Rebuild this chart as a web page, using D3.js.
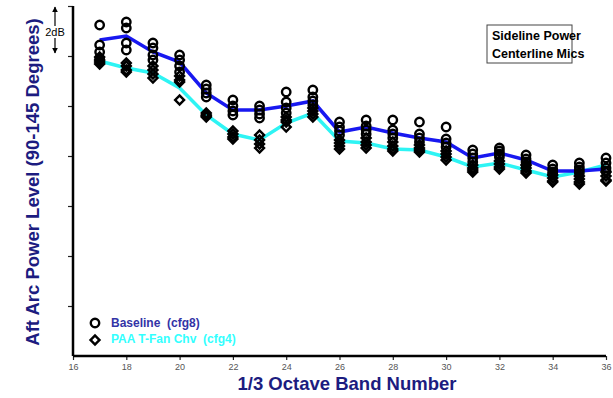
<!DOCTYPE html>
<html>
<head>
<meta charset="utf-8">
<script src="https://cdn.jsdelivr.net/npm/d3@7"></script>
<style>
  body { margin: 0; background: #fff; }
  svg { display: block; font-family: Arial, "Liberation Sans", sans-serif; }
</style>
</head>
<body>
<div id="chart"></div>
<script>
// 1/3 octave bands
const bands = [17, 18, 19, 20, 21, 22, 23, 24, 25, 26, 27, 28, 29, 30, 31, 32, 33, 34, 35, 36];

// averaged levels, dB (relative)
const baselineAvg = [12.64, 12.8, 12.16, 11.76, 10.52, 9.84, 9.84, 10.0, 10.2, 8.96, 9.16, 8.92, 8.72, 8.56, 7.92, 8.12, 7.84, 7.4, 7.4, 7.48];
const paaAvg = [11.8, 11.52, 11.32, 10.72, 9.64, 8.88, 8.64, 9.32, 9.72, 8.6, 8.52, 8.28, 8.24, 7.96, 7.56, 7.72, 7.44, 7.16, 7.36, 7.64];

// individual mic levels per band
const baselineMics = [
  [13.24, 12.44, 12.16, 11.88],
  [13.36, 13.12, 12.52, 12.24],
  [12.52, 12.32, 12.04, 11.84],
  [12.04, 11.84, 11.6, 11.36],
  [10.84, 10.68, 10.52, 10.36],
  [10.24, 10.0, 9.8, 9.64],
  [10.0, 9.84, 9.68, 9.52],
  [10.56, 10.16, 9.92, 9.72],
  [10.64, 10.36, 10.2, 10.04],
  [9.36, 9.16, 9.0, 8.84],
  [9.44, 9.2, 9.04, 8.88],
  [9.44, 9.04, 8.88, 8.72],
  [9.36, 8.88, 8.72, 8.56],
  [9.16, 8.68, 8.52, 8.36],
  [8.24, 8.08, 7.92, 7.76],
  [8.32, 8.2, 8.08, 7.96],
  [8.04, 7.88, 7.76, 7.64],
  [7.64, 7.48, 7.36, 7.28],
  [7.72, 7.56, 7.44, 7.32],
  [7.92, 7.72, 7.52, 7.4]
];
const paaMics = [
  [11.96, 11.84, 11.76, 11.68],
  [11.72, 11.6, 11.44, 11.36],
  [11.6, 11.44, 11.28, 11.12],
  [11.2, 11.04, 10.96, 10.24],
  [9.72, 9.64, 9.6, 9.56],
  [9.0, 8.88, 8.76, 8.68],
  [8.84, 8.64, 8.48, 8.32],
  [9.56, 9.44, 9.36, 9.16],
  [9.92, 9.8, 9.68, 9.56],
  [8.64, 8.52, 8.4, 8.28],
  [8.72, 8.56, 8.44, 8.32],
  [8.56, 8.4, 8.28, 8.2],
  [8.44, 8.32, 8.24, 8.16],
  [8.2, 8.08, 7.96, 7.84],
  [7.64, 7.52, 7.44, 7.36],
  [7.8, 7.68, 7.56, 7.48],
  [7.64, 7.52, 7.4, 7.32],
  [7.24, 7.12, 7.0, 6.96],
  [7.2, 7.08, 6.96, 6.88],
  [7.36, 7.2, 7.04, 7.0]
];

const xTicks = [16, 18, 20, 22, 24, 26, 28, 30, 32, 34, 36];
const yTicks = [2, 4, 6, 8, 10, 12, 14];

const W = 613, H = 398;
const svg = d3.select("#chart").append("svg")
  .attr("width", W)
  .attr("height", H);

const x = d3.scaleLinear().domain([16, 36]).range([73, 606]);
const y = d3.scaleLinear().domain([0, 14]).range([356, 6]);

// x axis
const xAxis = svg.append("g")
  .attr("transform", "translate(0," + y(0) + ")")
  .call(d3.axisBottom(x).tickValues(xTicks).tickSize(4).tickPadding(4));
xAxis.select(".domain").remove();
xAxis.selectAll("line").attr("stroke", "#222").attr("stroke-width", 1.2);
xAxis.selectAll("text").attr("font-size", 9).attr("fill", "#555");

// y axis (no labels)
const yAxis = svg.append("g")
  .attr("transform", "translate(" + x(16) + ",0)")
  .call(d3.axisLeft(y).tickValues(yTicks).tickSize(5).tickFormat(""));
yAxis.select(".domain").remove();
yAxis.selectAll("line").attr("stroke", "#222").attr("stroke-width", 1.2);

// axis lines
svg.append("line")
  .attr("x1", x(16)).attr("x2", x(16))
  .attr("y1", y(14)).attr("y2", y(0))
  .attr("stroke", "#000").attr("stroke-width", 2.5);
svg.append("line")
  .attr("x1", x(16)).attr("x2", x(36))
  .attr("y1", y(0)).attr("y2", y(0))
  .attr("stroke", "#000").attr("stroke-width", 2.5);

// lines
const line = d3.line()
  .x((d, i) => x(bands[i]))
  .y(d => y(d));

svg.append("path")
  .datum(paaAvg)
  .attr("d", line)
  .attr("fill", "none")
  .attr("stroke", "#2ef4f4")
  .attr("stroke-width", 3.5);

svg.append("path")
  .datum(baselineAvg)
  .attr("d", line)
  .attr("fill", "none")
  .attr("stroke", "#1818f0")
  .attr("stroke-width", 3.5);

// markers
const circleSym = d3.symbol().type(d3.symbolCircle).size(56);
const diamondSym = d3.symbol().type(d3.symbolSquare).size(40);

function flatten(mics) {
  const out = [];
  mics.forEach((vals, i) => vals.forEach(v => out.push({ band: bands[i], v: v })));
  return out;
}

svg.append("g").selectAll("path")
  .data(flatten(paaMics))
  .enter()
  .append("path")
  .attr("d", diamondSym)
  .attr("transform", d => "translate(" + x(d.band) + "," + y(d.v) + ") rotate(45)")
  .attr("fill", "none")
  .attr("stroke", "#000")
  .attr("stroke-width", 2.4);

svg.append("g").selectAll("path")
  .data(flatten(baselineMics))
  .enter()
  .append("path")
  .attr("d", circleSym)
  .attr("transform", d => "translate(" + x(d.band) + "," + y(d.v) + ")")
  .attr("fill", "none")
  .attr("stroke", "#000")
  .attr("stroke-width", 2.4);

// legend
const legend = svg.append("g");
legend.append("path")
  .attr("d", circleSym)
  .attr("transform", "translate(95,323)")
  .attr("fill", "none").attr("stroke", "#000").attr("stroke-width", 2.4);
legend.append("path")
  .attr("d", diamondSym)
  .attr("transform", "translate(95,340) rotate(45)")
  .attr("fill", "none").attr("stroke", "#000").attr("stroke-width", 2.4);
legend.append("text")
  .attr("x", 111).attr("y", 327)
  .attr("font-size", 12).attr("font-weight", "bold")
  .attr("fill", "#3333a6")
  .attr("xml:space", "preserve")
  .text("Baseline  (cfg8)");
legend.append("text")
  .attr("x", 111).attr("y", 343)
  .attr("font-size", 12).attr("font-weight", "bold")
  .attr("fill", "#33ffff")
  .attr("xml:space", "preserve")
  .text("PAA T-Fan Chv  (cfg4)");

// 2dB scale marker
const arrowX = 55;
svg.append("defs").append("marker")
  .attr("id", "ah")
  .attr("viewBox", "0 0 10 10")
  .attr("refX", 9).attr("refY", 5)
  .attr("markerWidth", 5).attr("markerHeight", 5)
  .attr("orient", "auto")
  .append("path").attr("d", "M0,0L10,5L0,10Z").attr("fill", "#000");
svg.append("line")
  .attr("x1", arrowX).attr("x2", arrowX)
  .attr("y1", y(13)).attr("y2", y(14) + 1)
  .attr("stroke", "#000").attr("stroke-width", 1.2)
  .attr("marker-end", "url(#ah)");
svg.append("line")
  .attr("x1", arrowX).attr("x2", arrowX)
  .attr("y1", y(13)).attr("y2", y(12) - 3)
  .attr("stroke", "#000").attr("stroke-width", 1.2)
  .attr("marker-end", "url(#ah)");
svg.append("rect")
  .attr("x", 42).attr("y", 26).attr("width", 26).attr("height", 12)
  .attr("fill", "#fff");
svg.append("text")
  .attr("x", 55).attr("y", 36)
  .attr("text-anchor", "middle")
  .attr("font-size", 11)
  .attr("fill", "#000")
  .text("2dB");

// title box
svg.append("rect")
  .attr("x", 487).attr("y", 25).attr("width", 85).attr("height", 38)
  .attr("fill", "#fff").attr("stroke", "#444").attr("stroke-width", 1);
svg.append("text")
  .attr("x", 492).attr("y", 40)
  .attr("font-size", 12.5).attr("font-weight", "bold")
  .text("Sideline Power");
svg.append("text")
  .attr("x", 492).attr("y", 58)
  .attr("font-size", 12.5).attr("font-weight", "bold")
  .text("Centerline Mics");

// axis titles
svg.append("text")
  .attr("x", 347).attr("y", 390)
  .attr("text-anchor", "middle")
  .attr("font-size", 18.5).attr("font-weight", "bold")
  .attr("fill", "#1c1c80")
  .text("1/3 Octave Band Number");
svg.append("text")
  .attr("transform", "translate(39,182) rotate(-90)")
  .attr("text-anchor", "middle")
  .attr("font-size", 18.5).attr("font-weight", "bold")
  .attr("fill", "#1c1c80")
  .text("Aft Arc Power Level (90-145 Degrees)");
</script>
</body>
</html>
